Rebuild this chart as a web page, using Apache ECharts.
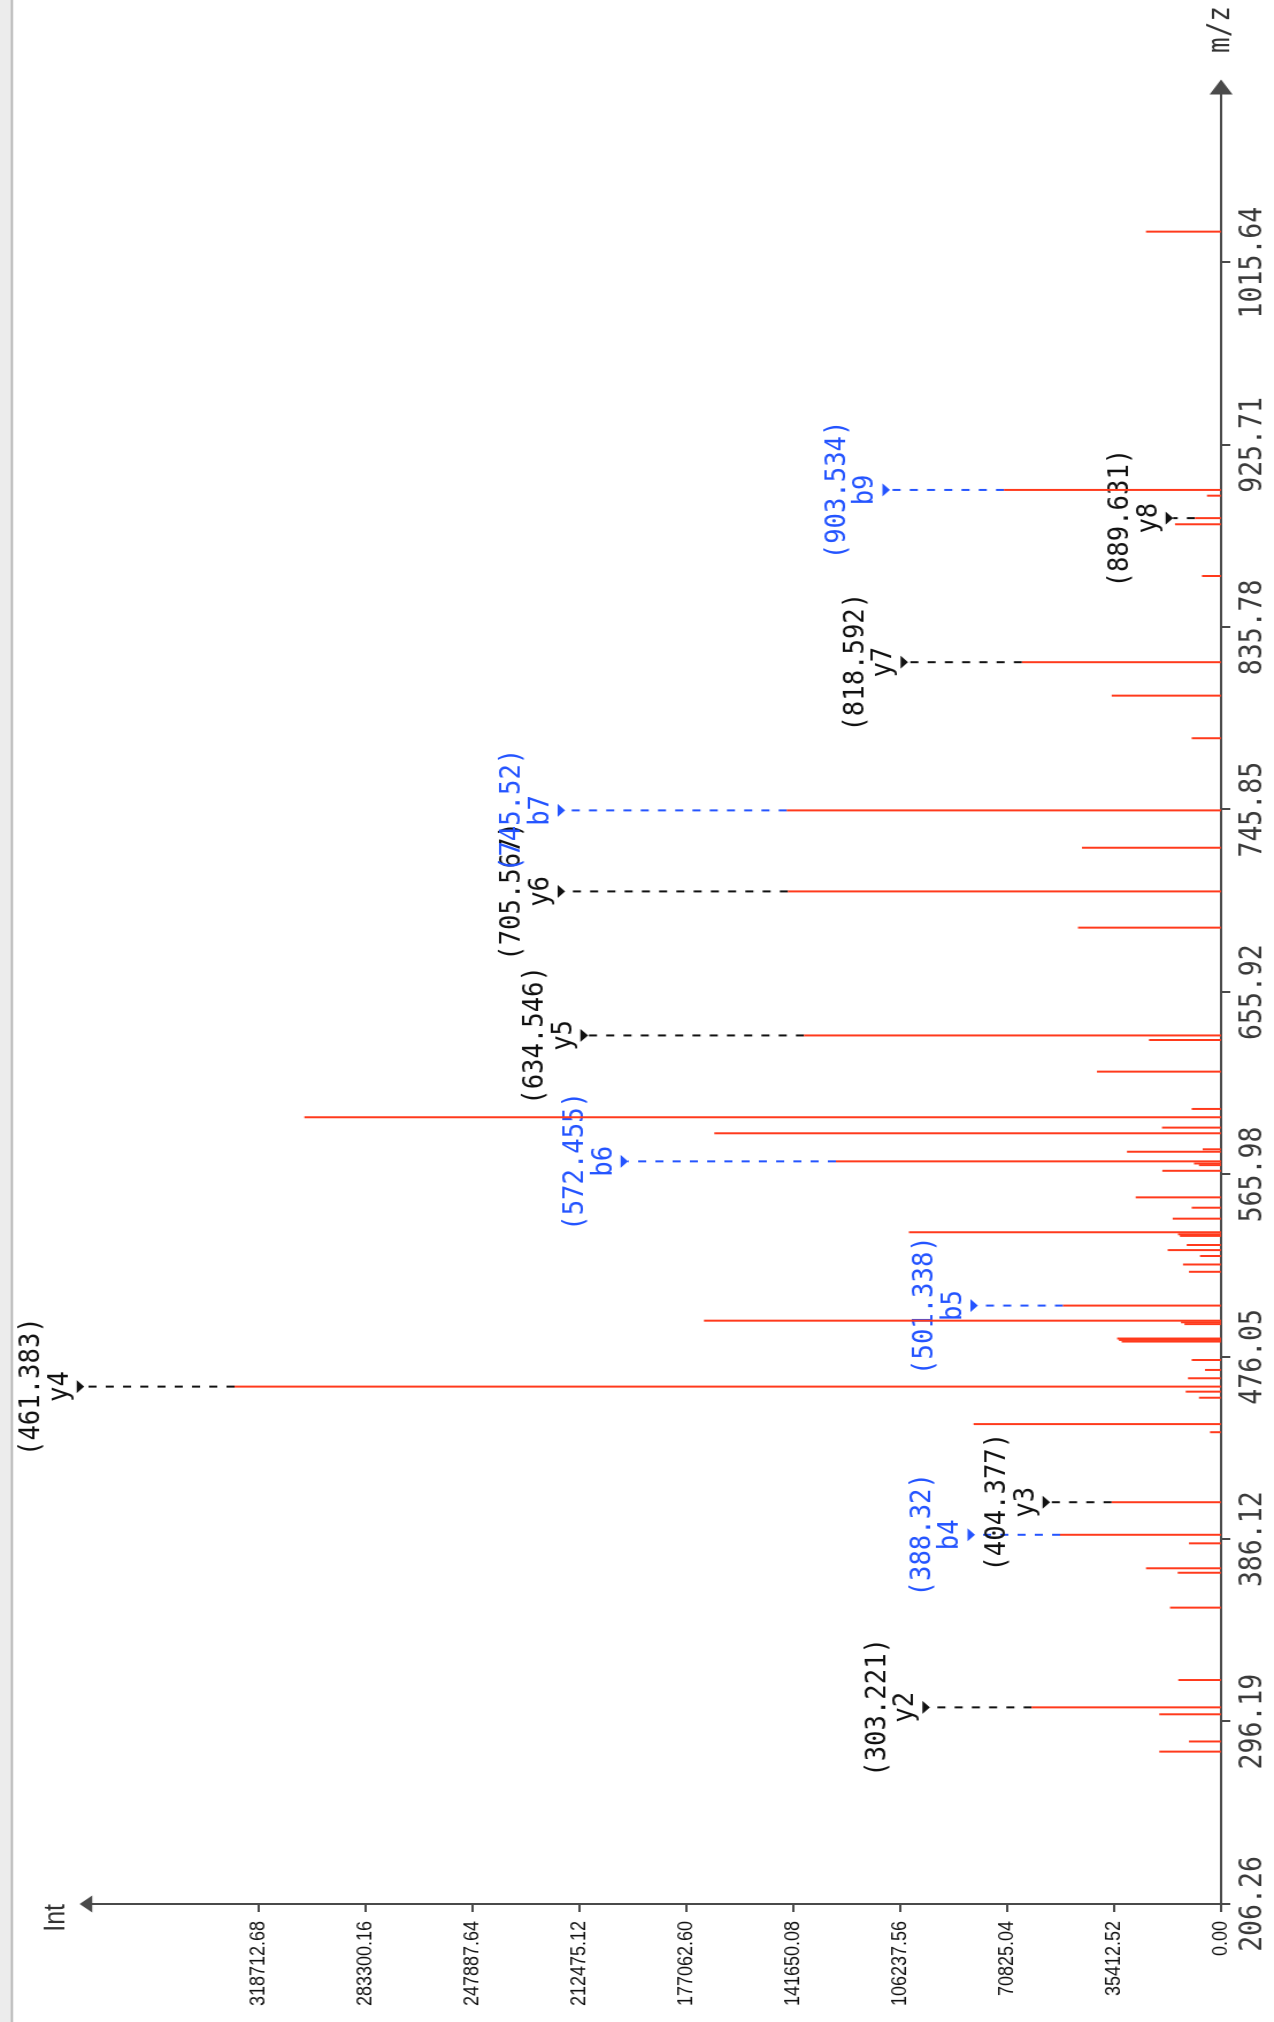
<!DOCTYPE html>
<html><head><meta charset="utf-8">
<script src="https://cdn.jsdelivr.net/npm/echarts@6/dist/echarts.min.js"></script>
<style>
html,body{margin:0;padding:0;background:#fff;overflow:hidden;}
#page{position:absolute;left:0;top:0;width:1274px;height:2022px;overflow:hidden;background:#fff;}
#chart{position:absolute;left:0;top:0;width:2022px;height:1108px;transform-origin:0 0;transform:translate(0px,2022px) rotate(-90deg) scale(1,1.14982);}
</style></head><body>
<div id="page"><div id="chart"></div></div>
<script>
// ---- data ----
const mzTicks = [206.26, 296.19, 386.12, 476.05, 565.98, 655.92, 745.85, 835.78, 925.71, 1015.64];
const intTicks = [0.00, 35412.52, 70825.04, 106237.56, 141650.08, 177062.60, 212475.12, 247887.64, 283300.16, 318712.68];

// unannotated peaks (m/z, intensity)
const peakMz  = [1030.9, 900.7, 886.6, 861.1, 802.1, 781.1, 727.1, 687.7, 632.3, 616.7,
                 598.3, 594.2, 589.1, 586.3, 578.4, 577.2, 571.4, 570.6, 567.8, 554.7,
                 549.6, 544.2, 537.5, 536.5, 535.7, 531.2, 528.7, 525.8, 521.6, 518.0,
                 493.9, 493.1, 492.2, 485.1, 484.4, 483.6, 474.5, 469.6, 465.5, 458.9,
                 455.9, 442.9, 438.9, 384.1, 371.8, 369.6, 352.4, 316.7, 299.8, 286.4, 281.4];
const peakInt = [24850, 4640, 15240, 6290, 36200, 9700, 46050, 47370, 23850, 41080,
                 9700, 303680, 19540, 167820, 6060, 31140, 8940, 7300, 19440, 28260,
                 9700, 16000, 103360, 14240, 13600, 11360, 17660, 6960, 12590, 10600,
                 171270, 13250, 12100, 34400, 33800, 32900, 9700, 5300, 10930, 11690,
                 7290, 81960, 3640, 10600, 24840, 14340, 16890, 14140, 20440, 10600, 20440];

// annotated fragment ions
const ionNames = ['y2', 'b4', 'y3', 'y4', 'b5', 'b6', 'y5', 'y6', 'b7', 'y7', 'y8', 'b9'];
const ionMz    = [303.221, 388.32, 404.377, 461.383, 501.338, 572.455, 634.546, 705.567, 745.52, 818.592, 889.631, 903.534];
const ionInt   = [62710, 53330, 36200, 326740, 52340, 127540, 138140, 143440, 143900, 65920, 8610, 71890];
const ionLevel = [96400, 81490, 56650, 376600, 80500, 196440, 209700, 217310, 217310, 103690, 15900, 109650];

// ---- chart ----
const K = 1274 / 1108;
const RED = '#ff3a1c', BLUE = '#2454ff', BLACK = '#111111';
const MONO = '"DejaVu Sans Mono", "Liberation Mono", monospace';

const stickData = peakMz.map((m, i) => [m, peakInt[i]]).concat(ionMz.map((m, i) => [m, ionInt[i]]));
const annData = ionMz.map((m, i) => [m, ionInt[i], ionLevel[i], i]);

const chart = echarts.init(document.getElementById('chart'));
const option = {
  animation: false,
  backgroundColor: '#ffffff',
  grid: { left: 118, right: 87, top: 86 / K, bottom: 53 / K, outerBoundsMode: 'none' },
  graphic: [
    { type: 'rect', shape: { x: 0, y: 0, width: 2022, height: 11 / K }, style: { fill: '#ececec' }, silent: true },
    { type: 'rect', shape: { x: 0, y: 11 / K, width: 2022, height: 2 / K }, style: { fill: '#b0b0b0' }, silent: true }
  ],
  xAxis: {
    type: 'value', min: 206.26, max: 1102.22,
    name: 'm/z', nameLocation: 'end', nameGap: 34,
    nameTextStyle: { fontFamily: MONO, fontSize: 26, color: '#333' },
    splitLine: { show: false },
    axisLine: { show: true, symbol: ['none', 'triangle'], symbolSize: [20, 15], lineStyle: { color: '#4a4a4a', width: 2 } },
    axisTick: { show: true, length: 8, customValues: mzTicks, lineStyle: { color: '#4a4a4a', width: 2 } },
    axisLabel: { customValues: mzTicks, margin: 15, fontFamily: MONO, fontSize: 26.5, color: '#3a3a3a',
                 formatter: v => v.toFixed(2) }
  },
  yAxis: {
    type: 'value', min: 0, max: 376000,
    name: 'Int', nameLocation: 'end', nameGap: 13,
    nameTextStyle: { fontFamily: '"Liberation Sans", Arial, sans-serif', fontSize: 25, color: '#333', align: 'right' },
    splitLine: { show: false },
    axisLine: { show: true, symbol: ['none', 'triangle'], symbolSize: [17, 11], lineStyle: { color: '#4a4a4a', width: 2 } },
    axisTick: { show: true, length: 8, customValues: intTicks, lineStyle: { color: '#4a4a4a', width: 2 } },
    axisLabel: { customValues: intTicks, margin: 17, fontFamily: '"Liberation Sans", Arial, sans-serif', fontSize: 18, color: '#111',
                 formatter: v => v.toFixed(2) }
  },
  series: [
    { type: 'bar', data: stickData, barWidth: 2, itemStyle: { color: RED }, silent: true },
    {
      type: 'custom', data: annData, clip: false, silent: true,
      renderItem: function (params, api) {
        const i = api.value(3);
        const p0 = api.coord([api.value(0), api.value(1)]);
        const p1 = api.coord([api.value(0), api.value(2)]);
        const name = ionNames[i];
        const col = name.charAt(0) === 'b' ? BLUE : BLACK;
        const triH = 7.5 / K, triW = 6.5, gap = 2 / K, pitch = 24.5;
        const font = { fontFamily: MONO, fontSize: 25.6 };
        return {
          type: 'group',
          children: [
            { type: 'line', shape: { x1: p0[0], y1: p0[1], x2: p1[0], y2: p1[1] },
              style: { stroke: col, lineWidth: 2, lineDash: [7, 8] } },
            { type: 'polygon', shape: { points: [[p1[0] - triW, p1[1] - triH], [p1[0] + triW, p1[1] - triH], [p1[0], p1[1]]] },
              style: { fill: col } },
            { type: 'text', x: p1[0], y: p1[1] - triH - gap,
              style: Object.assign({ text: name, fill: col, align: 'center', verticalAlign: 'bottom' }, font) },
            { type: 'text', x: p1[0], y: p1[1] - triH - gap - pitch,
              style: Object.assign({ text: '(' + ionMz[i] + ')', fill: col, align: 'center', verticalAlign: 'bottom' }, font) }
          ]
        };
      }
    }
  ]
};
chart.setOption(option);
</script></body></html>
